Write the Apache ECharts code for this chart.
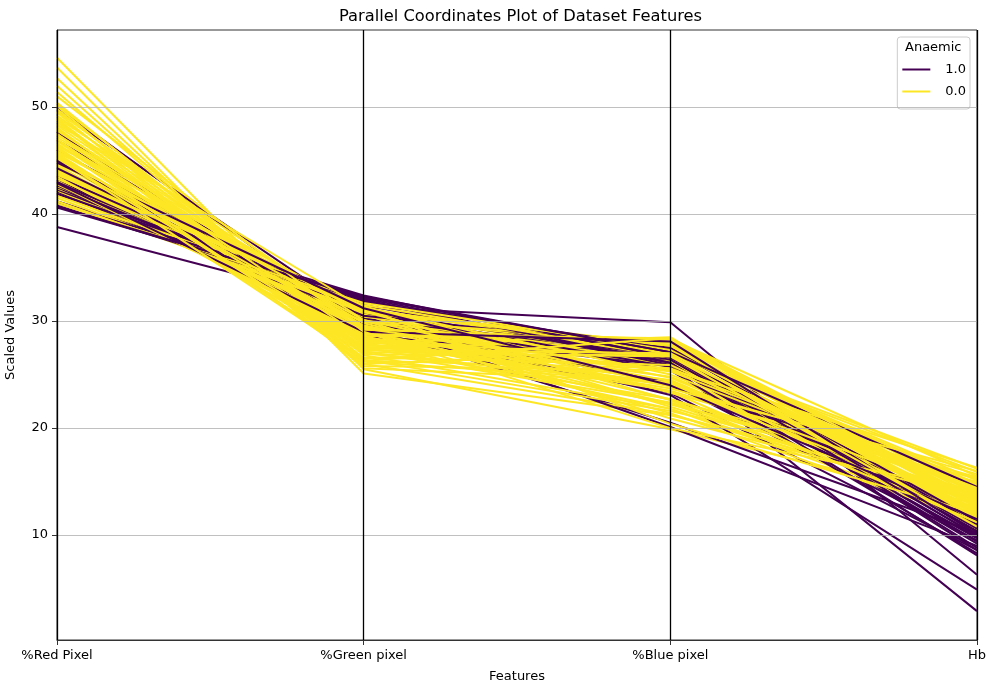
<!DOCTYPE html>
<html>
<head>
<meta charset="utf-8">
<script src="https://cdn.jsdelivr.net/npm/echarts@6/dist/echarts.min.js"></script>
<style>html,body{margin:0;padding:0;background:#fff}#c{width:986px;height:684px}</style>
</head>
<body>
<div id="c"></div>
<script>
const features = ['%Red Pixel', '%Green pixel', '%Blue pixel', 'Hb'];
const yTicks = [10, 20, 30, 40, 50];
const legendLabels = ['1.0', '0.0'];

const redPixel = [43.2,45.6,45.0,44.5,43.3,45.1,43.1,43.6,46.5,45.1,54.6,48.1,44.8,38.8,53.7,47.6,44.6,50.0,52.7,46.9,44.3,49.7,52.0,46.6,44.1,47.7,51.4,46.0,44.0,46.9,50.4,45.5,43.8,46.0,50.2,44.9,43.6,45.0,49.8,44.2,43.4,44.3,49.5,43.9,43.1,43.5,49.2,43.5,42.9,43.0,48.9,49.6,42.7,42.6,48.6,48.8,42.5,42.4,48.3,50.1,42.3,42.2,48.0,47.4,42.1,42.0,47.8,46.4,41.9,41.9,47.5,45.8,41.7,41.2,47.2,44.7,41.5,41.0,47.0,43.7,41.2,40.8,46.8,42.8,41.0,40.7,46.3,49.0,40.6,46.1,48.4,42.9,45.9,51.0,44.8,45.7,47.9,45.4,46.2,45.2,45.3];
const greenPixel = [30.8,28.2,29.0,29.0,30.7,28.0,30.1,29.8,28.7,29.1,25.5,26.3,30.5,31.3,25.1,27.9,27.7,29.5,26.0,26.0,28.5,30.2,26.4,27.6,29.6,29.0,26.8,29.6,27.5,30.0,27.2,26.5,30.2,29.8,28.0,28.3,28.8,28.6,27.5,27.4,29.4,30.3,26.2,29.1,28.6,30.8,28.6,28.1,29.9,30.2,27.0,29.0,30.9,31.0,29.1,25.8,29.2,31.5,28.2,25.6,30.4,31.9,27.8,30.6,31.2,30.5,29.5,31.0,30.0,32.0,26.6,30.9,31.5,32.1,28.9,31.4,30.8,32.4,27.4,31.3,31.0,31.8,29.8,28.8,31.7,32.2,26.9,30.1,32.3,28.4,31.2,29.0,30.1,29.0,31.2,27.3,28.4,29.3,27.1,28.0,26.3];
const bluePixel = [25.9,26.2,26.0,26.5,26.0,26.9,26.8,26.6,24.8,25.8,19.9,25.6,24.7,29.9,21.2,24.5,27.7,20.5,21.3,27.1,27.2,20.1,21.6,25.8,26.3,23.3,21.8,24.4,28.5,23.1,22.4,28.0,26.0,24.2,21.8,26.8,27.6,26.4,22.7,28.4,27.2,25.4,24.3,27.0,28.3,25.7,22.2,28.4,27.2,26.8,24.1,21.4,26.4,26.4,22.3,25.4,28.3,26.1,23.5,24.3,27.3,25.9,24.2,22.0,26.7,27.5,22.7,22.6,28.1,26.1,25.9,23.3,26.8,26.7,23.9,23.9,27.7,26.6,25.6,25.0,27.8,27.4,23.4,28.4,27.3,27.1,26.8,20.9,27.1,25.5,20.4,28.1,24.0,20.0,24.0,27.0,23.7,25.3,26.7,26.8,28.4];
const hb = [2.9,13.5,11.7,13.5,12.4,16.2,8.8,10.3,13.7,9.7,12.9,10.9,13.1,6.3,14.1,12.4,12.8,10.2,13.2,14.7,15.1,9.0,15.0,11.0,12.2,8.6,12.5,12.8,11.4,4.9,13.8,13.6,14.0,9.5,11.6,15.9,13.4,10.4,14.6,12.7,12.9,8.3,12.0,10.6,15.5,9.8,15.3,13.8,13.9,8.6,13.0,11.3,11.1,10.0,12.3,14.5,12.0,9.2,14.9,12.2,14.8,10.8,11.8,13.1,13.2,11.0,13.6,11.8,12.6,8.1,12.7,15.4,11.5,9.4,15.7,12.5,13.0,10.6,14.2,14.1,14.3,11.3,11.2,11.9,12.3,14.5,12.1,13.4,9.9,16.3,12.0,10.1,13.3,14.0,11.5,11.9,16.0,14.4,10.8,12.6,13.3];
const anaemic = [1,0,0,0,0,0,1,1,0,1,0,0,0,1,0,0,0,1,0,0,0,1,0,0,0,1,0,0,0,1,0,0,0,1,0,0,0,1,0,0,0,1,0,0,0,1,0,0,0,1,0,0,0,1,0,0,0,1,0,0,0,1,0,0,0,1,0,0,0,1,0,0,0,1,0,0,0,1,0,0,0,1,0,0,0,1,0,0,1,0,0,1,0,0,1,0,0,0,0,0,0];

const PURPLE = '#440154', YELLOW = '#fde725';
const FONT = 'DejaVu Sans';

const series = [];
series.push({
  type: 'line', name: 'grid', data: [], z: 1, silent: true,
  markLine: {
    silent: true, symbol: 'none', animation: false,
    label: { show: false },
    lineStyle: { color: '#b0b0b0', width: 0.8, type: 'solid' },
    data: yTicks.map(v => ({ yAxis: v }))
  }
});
for (let i = 0; i < redPixel.length; i++) {
  const c = anaemic[i] ? PURPLE : YELLOW;
  series.push({
    type: 'line', name: anaemic[i] ? legendLabels[0] : legendLabels[1],
    data: [redPixel[i], greenPixel[i], bluePixel[i], hb[i]],
    symbol: 'none', showSymbol: false, silent: true, z: 2,
    lineStyle: { color: c, width: 2 },
    itemStyle: { color: c },
    emphasis: { disabled: true }
  });
}
series.push({
  type: 'line', name: 'vlines', data: [], z: 10, silent: true,
  markLine: {
    silent: true, symbol: 'none', animation: false,
    label: { show: false },
    lineStyle: { color: '#000', width: 1.3, type: 'solid' },
    data: features.map(f => ({ xAxis: f }))
  }
});

const chart = echarts.init(document.getElementById('c'), null, { renderer: 'canvas' });
chart.setOption({
  animation: false,
  backgroundColor: '#fff',
  textStyle: { fontFamily: FONT },
  title: {
    text: 'Parallel Coordinates Plot of Dataset Features',
    left: 334, top: 4,
    textStyle: { fontFamily: FONT, fontSize: 16.3, fontWeight: 'normal', color: '#000' }
  },
  grid: { left: 57, right: 9, top: 30, bottom: 44, show: true, borderColor: '#333', borderWidth: 1, backgroundColor: 'transparent', outerBoundsMode: 'none', containLabel: false },
  legend: {
    data: legendLabels.map(n => ({ name: n, icon: 'rect' })),
    orient: 'vertical', right: 16, top: 37,
    itemWidth: 28, itemHeight: 2, itemGap: 9,
    padding: [26, 4, 11, 5],
    backgroundColor: 'rgba(255,255,255,0.85)', borderColor: '#cccccc', borderWidth: 1, borderRadius: 3,
    textStyle: { fontFamily: FONT, fontSize: 13, color: '#000', padding: [0, 0, 0, 10] },
    selectedMode: false
  },
  graphic: [{
    type: 'text', left: 905, top: 41, z: 100,
    style: { text: 'Anaemic', fontFamily: FONT, fontSize: 13, fill: '#000' }
  }],
  xAxis: {
    type: 'category', data: features, boundaryGap: false,
    name: 'Features', nameLocation: 'middle', nameGap: 30,
    nameTextStyle: { fontFamily: FONT, fontSize: 13, color: '#000' },
    axisLine: { lineStyle: { color: '#333', width: 1 } },
    axisTick: { show: true, length: 5, lineStyle: { color: '#333' } },
    axisLabel: { fontFamily: FONT, fontSize: 13, color: '#000', margin: 9 },
    splitLine: { show: false }
  },
  yAxis: {
    type: 'value', min: 0.2, max: 57.2,
    name: 'Scaled Values', nameLocation: 'middle', nameGap: 40, nameRotate: 90,
    nameTextStyle: { fontFamily: FONT, fontSize: 13, color: '#000' },
    axisLine: { show: true, lineStyle: { color: '#333', width: 1 } },
    axisTick: { show: true, length: 5, customValues: yTicks, lineStyle: { color: '#333' } },
    axisLabel: { fontFamily: FONT, fontSize: 13, color: '#000', margin: 9, customValues: yTicks },
    splitLine: { show: false }
  },
  series: series
});
</script>
</body>
</html>
